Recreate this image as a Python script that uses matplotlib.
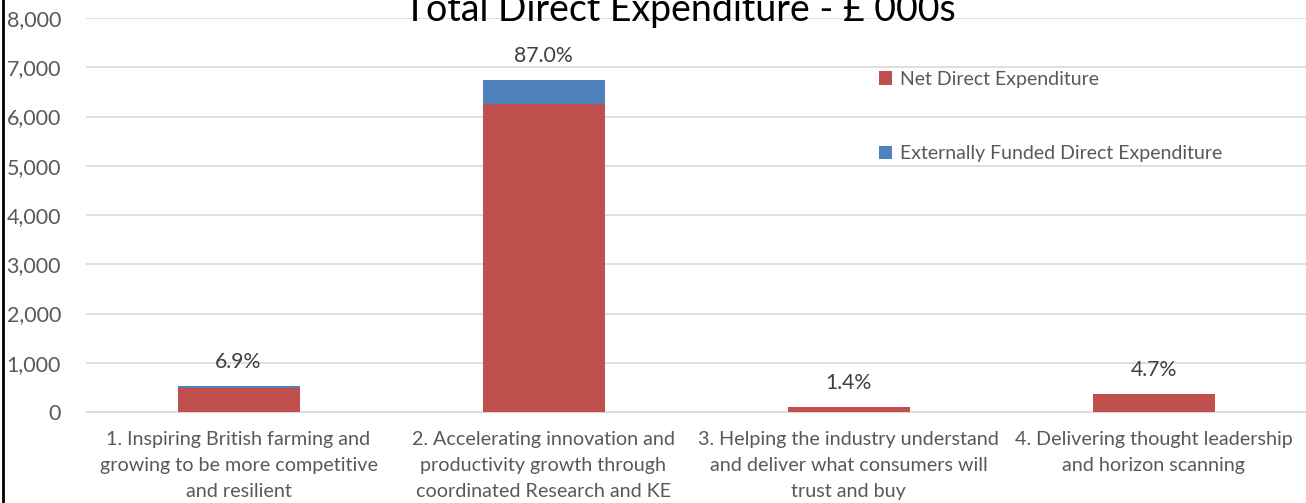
import matplotlib
matplotlib.use('Agg')
import matplotlib.pyplot as plt
import numpy as np
from matplotlib.lines import Line2D

plt.rcParams['font.family'] = ['Lato', 'DejaVu Sans']

# data (£000s)
categories = ['1. Inspiring British farming and\ngrowing to be more competitive\nand resilient',
              '2. Accelerating innovation and\nproductivity growth through\ncoordinated Research and KE',
              '3. Helping the industry understand\nand deliver what consumers will\ntrust and buy',
              '4. Delivering thought leadership\nand horizon scanning']
net_direct = [490, 6260, 108, 364]
external = [45, 480, 0, 0]
pct_labels = ['6.9%', '87.0%', '1.4%', '4.7%']

red = '#C0504D'
blue = '#4F81BD'
grey_text = '#595959'

fig = plt.figure(figsize=(13.06, 5.03), dpi=100)
ax = fig.add_axes([86/1306, 1 - 412/503, 1220/1306, 394/503])

x = np.arange(len(categories))
ax.bar(x, net_direct, width=0.4, color=red, label='Net Direct Expenditure', zorder=3)
ax.bar(x, external, width=0.4, bottom=net_direct, color=blue,
       label='Externally Funded Direct Expenditure', zorder=3)

totals = np.array(net_direct) + np.array(external)
for i in range(len(x)):
    ax.annotate(pct_labels[i], xy=(x[i], totals[i]), xytext=(0, 17), textcoords='offset points',
                ha='center', va='center', fontsize=15.3, color='#404040')

ax.set_xlim(-0.5, 3.5)
ax.set_ylim(0, 8000)
ax.set_yticks(range(0, 8001, 1000))
ax.set_yticklabels(['{:,}'.format(v) for v in range(0, 8001, 1000)])
ax.set_xticks(x)
ax.set_xticklabels(categories, fontsize=14.2, color=grey_text, linespacing=1.62)
ax.tick_params(axis='y', labelsize=15.5, labelcolor=grey_text, length=0, pad=18)
ax.tick_params(axis='x', length=0, pad=14)
ax.grid(axis='y', color='#d9d9d9', linewidth=1.2, zorder=0)
for s in ax.spines.values():
    s.set_visible(False)
ax.spines['bottom'].set_visible(True)
ax.spines['bottom'].set_color('#d9d9d9')

fig.text(680/1306, 1 - 10/503, 'Total Direct Expenditure - £ 000s', ha='center', va='center',
         fontsize=27, color='black')

ax.legend(loc='upper left', bbox_to_anchor=(871/1306, 1 - 63/503), bbox_transform=fig.transFigure,
          frameon=False, fontsize=14, labelcolor=grey_text, handlelength=0.7, handleheight=0.7,
          handletextpad=0.4, labelspacing=2.95, borderaxespad=0)

fig.add_artist(Line2D([3/1306, 3/1306], [0, 1], color='black', linewidth=2, transform=fig.transFigure))

fig.savefig('out.png', dpi=100)
